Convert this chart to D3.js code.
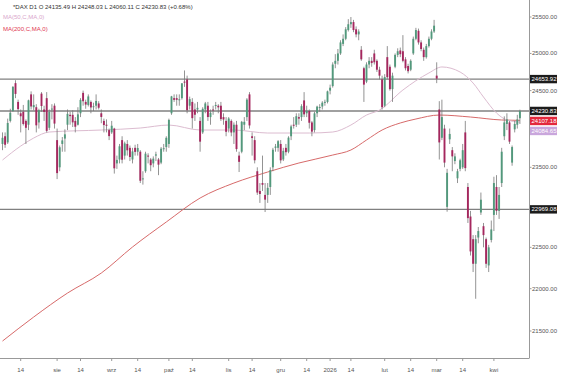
<!DOCTYPE html>
<html>
<head>
<meta charset="utf-8">
<script src="https://cdn.jsdelivr.net/npm/d3@7/dist/d3.min.js"></script>
<style>
  body { margin: 0; background: #fff; }
  svg { display: block; font-family: "Liberation Sans", Arial, sans-serif; }
</style>
</head>
<body>
<svg id="chart" width="564" height="379"></svg>
<script>
// DAX daily candles, 3 Jul 2025 .. 17 Apr 2026 (one entry per session)
const open = [
  23800,23900,23820,24100,24230,24600,24350,24200,24220,24100,
  24050,24450,24280,24280,24080,24460,24250,24400,24010,24250,
  24300,23850,23500,23800,23870,24050,24180,24180,24100,24050,
  24200,24470,24350,24310,24350,24280,24300,24330,24200,24100,
  24050,23980,23950,24000,23550,23600,23850,23650,23800,23750,
  23600,23750,23700,23700,23350,23450,23650,23600,23550,23650,
  23600,23560,23740,23760,23800,24200,24400,24400,24380,24400,
  24620,24650,24300,24350,24250,24250,24100,23950,24250,24300,
  24150,24250,24300,24300,24300,24150,24100,24000,24100,23950,
  24050,23650,23700,24050,24150,24450,23900,23850,23450,23200,
  23300,23150,23150,23250,23500,23750,23750,23800,23600,23750,
  23700,23900,24050,24050,24150,24150,24370,24200,24230,24080,
  23980,24200,24280,24290,24340,24350,24500,24560,24860,24900,
  25000,25130,25200,25320,25400,25430,25330,25260,25050,24800,
  24620,24850,24900,25000,24900,24780,24650,24300,24950,24820,
  24520,24820,24980,25040,25030,24920,24830,24780,25000,25200,
  25310,25150,25050,24950,25100,25200,25300,24700,24250,23880,
  24000,23000,23860,23720,23580,23360,23480,23500,23950,23250,
  22880,22600,22300,22620,22930,22760,22600,22280,22590,22900,
  23250,22950,23300,23900,24060,24080,23560,23990,24050,24135.49
];
const high = [
  23950,23950,24130,24260,24560,24639,24380,24250,24310,24120,
  24380,24490,24450,24320,24260,24480,24300,24480,24250,24320,
  24330,24000,23780,23890,23990,24250,24220,24240,24150,24280,
  24400,24500,24380,24450,24370,24340,24450,24360,24250,24130,
  24120,24000,24100,24010,23650,23800,23900,23830,23850,23780,
  23750,23790,23800,23720,23450,23700,23680,23620,23640,23700,
  23620,23760,23800,23900,24130,24430,24450,24450,24450,24600,
  24770,24700,24420,24400,24330,24350,24150,24280,24350,24350,
  24250,24300,24350,24320,24350,24200,24150,24150,24120,24080,
  24100,23700,24100,24150,24400,24480,23950,23900,23500,23300,
  23650,23300,23300,23500,23750,23800,23850,23850,23750,23800,
  23900,24050,24150,24200,24200,24320,24480,24300,24250,24100,
  24220,24300,24320,24360,24380,24500,24580,24880,24990,25060,
  25180,25260,25360,25470,25500,25460,25370,25330,25100,24820,
  24880,24950,24950,25050,24920,24820,24700,24720,25100,24850,
  24740,25000,25070,25080,25250,24950,24860,24920,25230,25350,
  25340,25180,25080,25130,25230,25330,25460,24880,24360,24380,
  24050,23480,24000,23760,23680,23480,23610,23800,24100,23300,
  22950,22650,22650,22750,23180,22800,22620,22530,22830,23380,
  23400,23250,23750,24160,24200,24100,23780,24100,24180,24248.03
];
const low = [
  23720,23750,23800,24080,24220,24400,24180,23950,24040,23800,
  23980,24250,24240,23950,24000,24220,24100,23950,23980,24120,
  24000,23350,23450,23700,23700,23980,24050,24020,23950,24040,
  24150,24300,24260,24290,24200,24230,24250,24250,24070,23950,
  23950,23850,23930,23420,23480,23550,23550,23600,23650,23580,
  23550,23650,23650,23300,23280,23430,23550,23450,23500,23580,
  23400,23540,23700,23700,23750,24180,24350,24300,24300,24380,
  24550,24200,24250,24000,24100,24200,23700,23930,24200,24100,
  24050,24180,24250,24200,24100,24050,23900,23950,23900,23800,
  23700,23440,23680,23980,24100,24000,23650,23550,23150,23050,
  23200,22936,23050,23150,23450,23700,23700,23550,23580,23650,
  23680,23850,24000,24020,24050,24100,24150,24150,24000,23900,
  23950,24150,24220,24250,24300,24330,24450,24540,24800,24850,
  24980,25100,25180,25300,25350,25290,25220,25180,24900,24350,
  24600,24800,24820,24850,24750,24650,24250,24280,24650,24500,
  24350,24800,24950,24950,24880,24770,24730,24760,24980,25180,
  25120,25030,24900,24930,25080,25180,25280,24600,23600,23850,
  23500,22940,23800,23450,23540,23300,23450,23480,23450,22800,
  22400,22200,21880,22550,22900,22500,22250,22200,22560,22700,
  22900,22850,23250,23850,23980,23800,23520,23950,24000,24060.11
];
const close = [
  23880,23790,24073,24207,24550,24456,24255,24161,24060,24010,
  24371,24290,24308,24042,24240,24296,24218,23970,24217,24262,
  24065,23426,23757,23846,23925,24193,24163,24081,24024,24186,
  24377,24359,24315,24423,24277,24293,24363,24273,24152,24046,
  24039,23902,24037,23487,23595,23770,23597,23807,23718,23632,
  23704,23698,23748,23329,23359,23675,23639,23527,23611,23666,
  23534,23739,23745,23880,24113,24423,24378,24378,24385,24597,
  24611,24241,24387,24136,24181,24272,23830,24259,24330,24151,
  24207,24240,24309,24278,24124,24118,23958,24132,23949,24050,
  23734,23570,24088,24088,24381,24041,23877,23590,23180,23162,
  23278,23091,23239,23465,23726,23767,23836,23589,23711,23694,
  23882,24028,24046,24162,24130,24294,24186,24229,24076,23960,
  24199,24288,24283,24340,24351,24490,24539,24850,24900,25000,
  25150,25200,25330,25400,25430,25320,25260,25300,24920,24580,
  24850,24900,24870,24880,24780,24700,24280,24680,24680,24520,
  24700,24980,25030,24990,24900,24800,24760,24900,25200,25320,
  25150,25060,24950,25100,25200,25300,25380,24660,23820,24150,
  23560,23430,23930,23640,23640,23450,23590,23720,23490,22860,
  22450,22300,22600,22700,23090,22650,22300,22500,22720,23300,
  22950,23150,23700,24080,24120,23830,23760,24060,24120,24230.83
];

// moving averages: session index -> value
const ma50At = [0, 7, 12, 18, 38, 53, 64, 76, 89, 102, 118, 127, 134, 140, 145, 154, 164, 169, 176, 181, 185, 190, 194, 199];
const ma50 = [23593, 23773, 23877, 23955, 23981, 24007, 24046, 23981, 23981, 23942, 23942, 23955, 24046, 24177, 24243, 24508, 24736, 24817, 24749, 24601, 24415, 24204, 24112, 24084.65];
const ma200At = [0, 12, 25, 38, 50, 63, 76, 89, 102, 114, 127, 134, 140, 146, 153, 159, 168, 180, 192, 199];
const ma200 = [21383, 21664, 21948, 22188, 22504, 22812, 23111, 23300, 23440, 23555, 23657, 23722, 23851, 23981, 24073, 24125, 24177, 24151, 24112, 24107.18];

// horizontal levels drawn on the chart
const levels = [24653.92, 24230.83, 22969.08];

const yTicks = [21500, 22000, 22500, 23000, 23500, 24000, 24500, 25000, 25500];
const xTickAt = [7, 21, 30, 42, 52, 64, 73, 87, 96, 107, 117, 126, 134, 147, 157, 167, 177, 189];
const xTickLabels = ["14", "sie", "14", "wrz", "14", "paź", "14", "lis", "14", "gru", "14", "2026", "14", "lut", "14", "mar", "14", "kwi"];

const headerText = "*DAX D1 O 24135.49 H 24248.03 L 24060.11 C 24230.83 (+0.68%)";

const plot = { left: 0, right: 529, top: 0, bottom: 358 };
const upColor = "#52997c", downColor = "#a5275e", wickColor = "#777";
const ma50Color = "#dcbcd0", ma200Color = "#d76a6a";

const svg = d3.select("#chart");

const x = d3.scaleLinear().domain([0, 199]).range([2.5, 519.9]);
const y = d3.scaleLog().domain([21500, 25500]).range([331, 17]);

// level lines
svg.append("g").selectAll("line")
  .data(levels)
  .enter().append("line")
  .attr("x1", plot.left).attr("x2", plot.right)
  .attr("y1", d => y(d)).attr("y2", d => y(d))
  .attr("stroke", "#808080")
  .attr("stroke-width", 1.4);

// moving averages
const maLine = d3.line()
  .x(d => x(d[0]))
  .y(d => y(d[1]))
  .curve(d3.curveMonotoneX);

svg.append("path")
  .datum(ma200At.map((d, i) => [d, ma200[i]]))
  .attr("d", maLine)
  .attr("fill", "none")
  .attr("stroke", ma200Color)
  .attr("stroke-width", 1);

svg.append("path")
  .datum(ma50At.map((d, i) => [d, ma50[i]]))
  .attr("d", maLine)
  .attr("fill", "none")
  .attr("stroke", ma50Color)
  .attr("stroke-width", 1);

// candles
const candles = svg.append("g")
  .selectAll("g")
  .data(close.map((c, i) => ({ i: i, o: open[i], h: high[i], l: low[i], c: c })))
  .enter().append("g");

candles.append("line")
  .attr("x1", d => x(d.i)).attr("x2", d => x(d.i))
  .attr("y1", d => y(d.h)).attr("y2", d => y(d.l))
  .attr("stroke", wickColor)
  .attr("stroke-width", 0.8);

const bodyW = 1.9;
candles.append("rect")
  .attr("x", d => x(d.i) - bodyW / 2)
  .attr("width", bodyW)
  .attr("y", d => y(Math.max(d.o, d.c)))
  .attr("height", d => Math.max(1, Math.abs(y(d.o) - y(d.c))))
  .attr("fill", d => d.c >= d.o ? upColor : downColor);

// axes
const yAxis = svg.append("g")
  .attr("transform", "translate(" + plot.right + ",0)");

yAxis.append("line")
  .attr("x1", 0.5).attr("x2", 0.5)
  .attr("y1", plot.top).attr("y2", plot.bottom)
  .attr("stroke", "#999");

// price labels on the right, pushed apart so they don't overlap
const tags = [
  { v: levels[0], bg: "#1c1c1c" },
  { v: levels[1], bg: "#1c1c1c" },
  { v: ma200[ma200.length - 1], bg: "#e3283c" },
  { v: ma50[ma50.length - 1], bg: "#c9a6dc" },
  { v: levels[2], bg: "#1c1c1c" }
];
let last = -100;
tags.forEach(t => {
  t.y = Math.max(y(t.v), last + 10);
  last = t.y;
});

const shownTicks = yTicks.filter(v => tags.every(t => Math.abs(t.y - y(v)) > 7));

yAxis.selectAll(".ytick")
  .data(shownTicks)
  .enter().append("line")
  .attr("x1", 0).attr("x2", 2.5)
  .attr("y1", d => y(d)).attr("y2", d => y(d))
  .attr("stroke", "#999");

yAxis.selectAll(".ylab")
  .data(shownTicks)
  .enter().append("text")
  .attr("x", 3)
  .attr("y", d => y(d) + 2)
  .attr("font-size", 6)
  .attr("fill", "#555")
  .text(d => d.toFixed(2));

const tagG = yAxis.selectAll(".tag")
  .data(tags)
  .enter().append("g")
  .attr("transform", d => "translate(1," + d.y + ")");

tagG.append("rect")
  .attr("x", 0).attr("y", -4.2)
  .attr("width", 27).attr("height", 8.4)
  .attr("fill", d => d.bg);

tagG.append("text")
  .attr("x", 1.5).attr("y", 2.1)
  .attr("font-size", 6)
  .attr("fill", "#fff")
  .text(d => d.v.toFixed(2));

// x axis
const xAxis = svg.append("g");

xAxis.append("line")
  .attr("x1", plot.left).attr("x2", plot.right + 0.5)
  .attr("y1", plot.bottom + 0.5).attr("y2", plot.bottom + 0.5)
  .attr("stroke", "#999");

xAxis.selectAll(".xtick")
  .data(xTickAt)
  .enter().append("line")
  .attr("x1", d => x(d)).attr("x2", d => x(d))
  .attr("y1", plot.bottom + 0.5).attr("y2", plot.bottom + 3)
  .attr("stroke", "#999");

xAxis.selectAll(".xlab")
  .data(xTickAt)
  .enter().append("text")
  .attr("x", d => x(d))
  .attr("y", plot.bottom + 14)
  .attr("text-anchor", "middle")
  .attr("font-size", 6)
  .attr("fill", "#555")
  .text((d, i) => xTickLabels[i]);

// header + legend
svg.append("text")
  .attr("x", 13).attr("y", 9)
  .attr("font-size", 6)
  .attr("fill", "#333")
  .text(headerText);

svg.append("text")
  .attr("x", 3).attr("y", 19)
  .attr("font-size", 6)
  .attr("fill", "#d9a6cc")
  .text("MA(50,C,MA,0)");

svg.append("text")
  .attr("x", 3).attr("y", 30.5)
  .attr("font-size", 6)
  .attr("fill", "#e0374f")
  .text("MA(200,C,MA,0)");
</script>
</body>
</html>
